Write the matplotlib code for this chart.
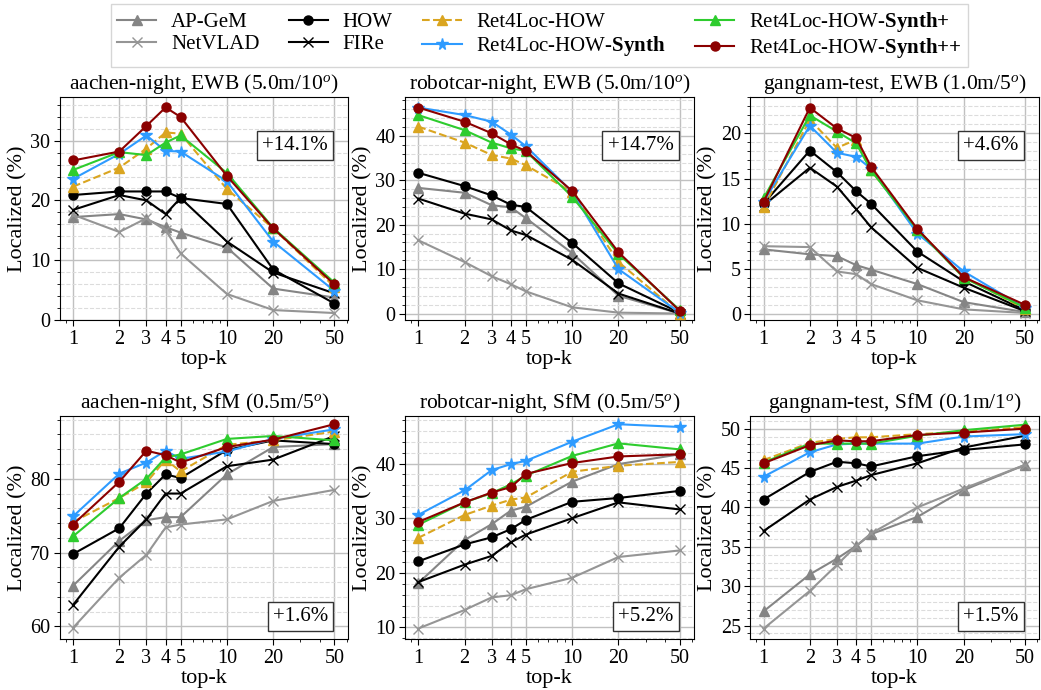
import matplotlib
matplotlib.use("Agg")
import matplotlib.pyplot as plt
from matplotlib.ticker import FixedLocator, FixedFormatter, AutoMinorLocator, LogLocator, NullFormatter
import numpy as np

plt.rcParams['font.family'] = ['Liberation Serif', 'DejaVu Serif']
plt.rcParams['mathtext.fontset'] = 'custom'
plt.rcParams['mathtext.rm'] = 'Liberation Serif'
plt.rcParams['mathtext.it'] = 'Liberation Serif:italic'
plt.rcParams['mathtext.bf'] = 'Liberation Serif:bold'

topk = [1, 2, 3, 4, 5, 10, 20, 50]
xtick_labels = ['1', '2', '3', '4', '5', '10', '20', '50']

methods = ['AP-GeM', 'NetVLAD', 'HOW', 'FIRe', 'Ret4Loc-HOW',
           r'Ret4Loc-HOW-$\mathbf{Synth}$', r'Ret4Loc-HOW-$\mathbf{Synth{+}}$',
           r'Ret4Loc-HOW-$\mathbf{Synth{+}{+}}$']

titles = [r'aachen-night, EWB (5.0m/10$^{o}$)', r'robotcar-night, EWB (5.0m/10$^{o}$)',
          r'gangnam-test, EWB (1.0m/5$^{o}$)', r'aachen-night, SfM (0.5m/5$^{o}$)',
          r'robotcar-night, SfM (0.5m/5$^{o}$)', r'gangnam-test, SfM (0.1m/1$^{o}$)']
gains = ['+14.1%', '+14.7%', '+4.6%', '+1.6%', '+5.2%', '+1.5%']

# aachen-night EWB
aachen_ewb_apgem = [17.2, 17.7, 16.8, 15.5, 14.6, 12.1, 5.2, 3.7]
aachen_ewb_netvlad = [17.6, 14.7, 17.0, 15.0, 11.1, 4.3, 1.6, 1.1]
aachen_ewb_how = [20.9, 21.5, 21.5, 21.5, 20.4, 19.4, 8.4, 2.7]
aachen_ewb_fire = [18.4, 20.9, 20.0, 17.7, 20.4, 13.1, 7.9, 4.4]
aachen_ewb_r4l = [22.3, 25.5, 28.7, 31.4, 31.2, 21.9, 15.3, 5.5]
aachen_ewb_synth = [23.6, 27.8, 30.9, 28.3, 28.2, 23.2, 13.1, 4.8]
aachen_ewb_synthp = [25.1, 28.1, 27.6, 29.7, 30.9, 24.6, 15.4, 6.2]
aachen_ewb_synthpp = [26.7, 28.2, 32.5, 35.6, 34.0, 24.1, 15.3, 5.9]

# robotcar-night EWB
robot_ewb_apgem = [28.3, 27.2, 24.4, 23.9, 21.5, 13.6, 4.0, 0.0]
robot_ewb_netvlad = [16.5, 11.6, 8.4, 6.6, 5.0, 1.4, 0.2, 0.0]
robot_ewb_how = [31.7, 28.7, 26.6, 24.5, 24.0, 15.9, 6.8, 0.2]
robot_ewb_fire = [25.9, 22.5, 21.2, 18.7, 17.7, 12.1, 4.5, 0.0]
robot_ewb_r4l = [42.1, 38.5, 35.7, 34.9, 33.4, 27.4, 11.6, 0.0]
robot_ewb_synth = [46.4, 44.7, 43.2, 40.3, 37.7, 27.4, 10.0, 0.2]
robot_ewb_synthp = [44.7, 41.3, 38.5, 37.2, 36.6, 26.3, 13.4, 0.8]
robot_ewb_synthpp = [46.4, 43.2, 40.6, 38.1, 36.6, 27.6, 13.8, 0.6]

# gangnam-test EWB
gang_ewb_apgem = [7.15, 6.6, 6.4, 5.4, 4.9, 3.3, 1.3, 0.2]
gang_ewb_netvlad = [7.5, 7.4, 4.7, 4.4, 3.3, 1.5, 0.5, 0.1]
gang_ewb_how = [12.2, 18.1, 15.7, 13.6, 12.2, 6.9, 3.6, 0.4]
gang_ewb_fire = [12.0, 16.2, 14.1, 11.6, 9.6, 5.1, 2.9, 0.3]
gang_ewb_r4l = [11.8, 21.5, 18.4, 19.3, 15.9, 9.3, 4.1, 0.55]
gang_ewb_synth = [12.4, 20.85, 17.85, 17.4, 16.1, 8.9, 4.7, 0.66]
gang_ewb_synthp = [12.8, 22.0, 20.2, 18.9, 15.9, 9.3, 4.0, 0.7]
gang_ewb_synthpp = [12.4, 22.85, 20.55, 19.5, 16.3, 9.4, 4.07, 1.0]

# aachen-night SfM
aachen_sfm_apgem = [65.5, 71.6, 74.4, 74.8, 74.8, 80.6, 84.3, 84.7]
aachen_sfm_netvlad = [59.8, 66.6, 69.7, 73.4, 73.8, 74.5, 77.0, 78.5]
aachen_sfm_how = [69.8, 73.3, 78.0, 80.6, 80.1, 83.9, 85.2, 84.7]
aachen_sfm_fire = [62.9, 70.8, 74.5, 78.0, 78.0, 81.7, 82.6, 85.8]
aachen_sfm_r4l = [74.15, 77.4, 79.5, 82.6, 81.0, 84.6, 85.2, 86.4]
aachen_sfm_synth = [74.9, 80.7, 82.2, 83.8, 82.7, 83.7, 85.4, 86.7]
aachen_sfm_synthp = [72.2, 77.4, 80.0, 82.9, 83.3, 85.4, 85.8, 85.2]
aachen_sfm_synthpp = [73.8, 79.6, 83.8, 83.2, 82.2, 84.3, 85.3, 87.4]

# robotcar-night SfM
robot_sfm_apgem = [18.1, 26.0, 28.9, 31.4, 32.1, 36.7, 39.9, 41.7]
robot_sfm_netvlad = [9.8, 13.2, 15.5, 15.9, 17.0, 19.1, 22.9, 24.1]
robot_sfm_how = [22.1, 25.2, 26.5, 28.0, 29.7, 33.0, 33.7, 35.0]
robot_sfm_fire = [18.3, 21.5, 23.1, 25.6, 27.0, 30.0, 32.9, 31.6]
robot_sfm_r4l = [26.4, 30.6, 32.3, 33.4, 33.8, 38.5, 39.6, 40.3]
robot_sfm_synth = [30.6, 35.1, 38.8, 39.9, 40.5, 44.0, 47.2, 46.7]
robot_sfm_synthp = [28.8, 32.9, 34.6, 36.2, 37.8, 41.4, 43.7, 42.6]
robot_sfm_synthpp = [29.3, 32.9, 34.7, 35.7, 38.1, 40.1, 41.3, 41.7]

# gangnam-test SfM
gang_sfm_apgem = [26.8, 31.5, 33.5, 35.1, 36.6, 38.8, 42.2, 45.4]
gang_sfm_netvlad = [24.6, 29.4, 32.7, 35.1, 36.7, 40.0, 42.4, 45.4]
gang_sfm_how = [41.0, 44.5, 45.8, 45.6, 45.2, 46.5, 47.3, 48.0]
gang_sfm_fire = [37.0, 41.0, 42.6, 43.4, 44.1, 45.6, 47.6, 49.1]
gang_sfm_r4l = [46.0, 48.2, 48.7, 48.9, 48.9, 49.3, 49.6, 50.2]
gang_sfm_synth = [43.9, 47.0, 48.0, 48.1, 48.1, 48.1, 49.0, 49.3]
gang_sfm_synthp = [45.7, 48.1, 48.1, 48.1, 48.1, 49.1, 49.8, 50.5]
gang_sfm_synthpp = [45.6, 47.9, 48.5, 48.4, 48.4, 49.2, 49.5, 50.0]

panels = [
    [aachen_ewb_apgem, aachen_ewb_netvlad, aachen_ewb_how, aachen_ewb_fire,
     aachen_ewb_r4l, aachen_ewb_synth, aachen_ewb_synthp, aachen_ewb_synthpp],
    [robot_ewb_apgem, robot_ewb_netvlad, robot_ewb_how, robot_ewb_fire,
     robot_ewb_r4l, robot_ewb_synth, robot_ewb_synthp, robot_ewb_synthpp],
    [gang_ewb_apgem, gang_ewb_netvlad, gang_ewb_how, gang_ewb_fire,
     gang_ewb_r4l, gang_ewb_synth, gang_ewb_synthp, gang_ewb_synthpp],
    [aachen_sfm_apgem, aachen_sfm_netvlad, aachen_sfm_how, aachen_sfm_fire,
     aachen_sfm_r4l, aachen_sfm_synth, aachen_sfm_synthp, aachen_sfm_synthpp],
    [robot_sfm_apgem, robot_sfm_netvlad, robot_sfm_how, robot_sfm_fire,
     robot_sfm_r4l, robot_sfm_synth, robot_sfm_synthp, robot_sfm_synthpp],
    [gang_sfm_apgem, gang_sfm_netvlad, gang_sfm_how, gang_sfm_fire,
     gang_sfm_r4l, gang_sfm_synth, gang_sfm_synthp, gang_sfm_synthpp],
]

ylims = [(-0.1, 37.3), (-1.5, 48.7), (-0.7, 24.0), (58.3, 88.5), (7.9, 48.7), (23.3, 51.6)]
yticks = [[0, 10, 20, 30], [0, 10, 20, 30, 40], [0, 5, 10, 15, 20],
          [60, 70, 80], [10, 20, 30, 40], [25, 30, 35, 40, 45, 50]]

styles = [
    dict(color='#858585', marker='^', ls='-', ms=6.5),
    dict(color='#959595', marker='x', ls='-', ms=6.5),
    dict(color='black', marker='o', ls='-', ms=6.5),
    dict(color='black', marker='x', ls='-', ms=6.5),
    dict(color='#DAA520', marker='^', ls='--', ms=6.5),
    dict(color='#2E9BFF', marker='*', ls='-', ms=8.5),
    dict(color='#2ECC2E', marker='^', ls='-', ms=6.5),
    dict(color='#8B0000', marker='o', ls='-', ms=6.5),
]

fig, axes = plt.subplots(2, 3, figsize=(10.41, 6.90), dpi=100)
fig.subplots_adjust(left=0.0576, right=0.998, top=0.859, bottom=0.074, wspace=0.197, hspace=0.43)

handles = []
for i, ax in enumerate(axes.flat):
    for j, series in enumerate(panels[i]):
        st = styles[j]
        h, = ax.plot(topk, series, color=st['color'], marker=st['marker'], linestyle=st['ls'],
                     markersize=st['ms'], linewidth=1.5, label=methods[j], zorder=3 + j)
        if i == 0:
            handles.append(h)
    ax.set_xscale('log')
    ax.set_xlim(0.823, 61.6)
    ax.xaxis.set_major_locator(FixedLocator(topk))
    ax.xaxis.set_major_formatter(FixedFormatter(xtick_labels))
    ax.xaxis.set_minor_locator(LogLocator(base=10, subs=np.arange(1, 10)))
    ax.xaxis.set_minor_formatter(NullFormatter())
    ax.set_ylim(*ylims[i])
    ax.set_yticks(yticks[i])
    ax.yaxis.set_minor_locator(AutoMinorLocator(5))
    ax.grid(True, which='major', axis='both', color='#c0c0c0', linewidth=1.0, linestyle='-')
    ax.grid(True, which='minor', axis='y', color='#dcdcdc', linewidth=0.8, linestyle='--')
    ax.set_axisbelow(True)
    ax.tick_params(axis='both', which='major', labelsize=14.5, length=4, pad=3)
    ax.tick_params(axis='both', which='minor', length=2)
    ax.set_title(titles[i], fontsize=15.5, pad=6)
    ax.set_xlabel('top-k', fontsize=16, labelpad=1)
    ax.set_ylabel('Localized (%)', fontsize=16, labelpad=2)
    ypos = 0.785 if i < 3 else 0.10
    ax.text(0.93, ypos, gains[i], transform=ax.transAxes, ha='right', va='center', fontsize=15,
            zorder=20, bbox=dict(boxstyle='square,pad=0.25', facecolor='white', edgecolor='#333333', linewidth=1.0))

fig.legend(handles=handles, loc='upper center', bbox_to_anchor=(0.518, 1.0), ncol=4, fontsize=15,
           frameon=True, fancybox=False, edgecolor='#cccccc', columnspacing=1.4, handletextpad=0.7,
           handlelength=1.9, borderpad=0.3, labelspacing=0.1, borderaxespad=0.2)

fig.savefig('out.png', dpi=100)
